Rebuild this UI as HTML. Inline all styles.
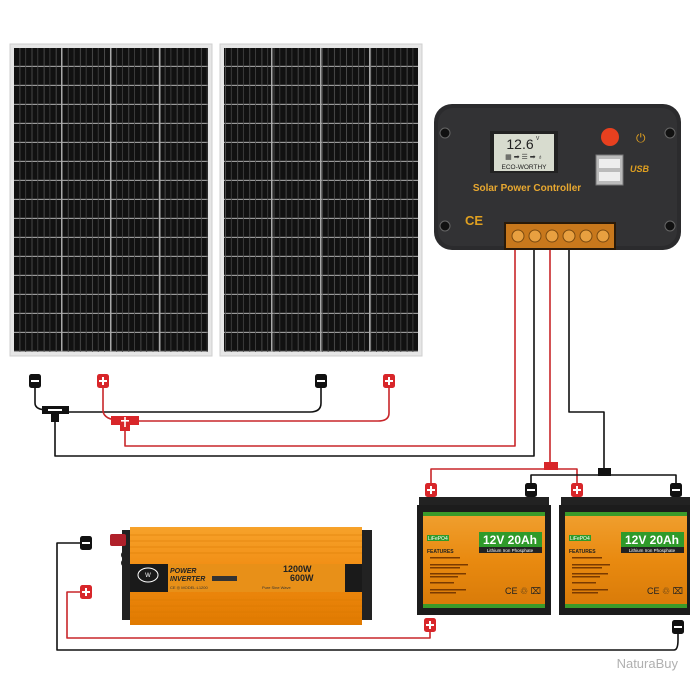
<!DOCTYPE html>
<html><head><meta charset="utf-8"><style>
html,body{margin:0;padding:0;background:#fff;}
svg{display:block;font-family:"Liberation Sans",sans-serif;}
</style></head><body>
<svg width="690" height="690" viewBox="0 0 690 690" xmlns="http://www.w3.org/2000/svg">
<defs>
<pattern id="cells" x="14" y="48" width="12.1" height="19" patternUnits="userSpaceOnUse">
<rect width="12.1" height="19" fill="#111"/>
<rect x="0" y="17.8" width="12.1" height="1.2" fill="#9a9a9a"/>
<rect x="5.5" y="0" width="0.8" height="19" fill="#555"/>
<rect x="11.3" y="0" width="0.8" height="19" fill="#444"/>
</pattern>
<linearGradient id="org" x1="0" y1="0" x2="0" y2="1">
<stop offset="0" stop-color="#f0a030"/><stop offset="0.5" stop-color="#e98a10"/><stop offset="1" stop-color="#d87a08"/>
</linearGradient>
<linearGradient id="inv" x1="0" y1="0" x2="0" y2="1">
<stop offset="0" stop-color="#f7a22a"/><stop offset="0.5" stop-color="#f08a10"/><stop offset="1" stop-color="#e07a00"/>
</linearGradient>
<g id="neg"><rect x="-6" y="-7" width="12" height="14" rx="2.5" fill="#111"/><rect x="-4" y="-1" width="8" height="2" fill="#fff"/></g>
<g id="pos"><rect x="-6" y="-7" width="12" height="14" rx="2.5" fill="#d8262a"/><rect x="-4" y="-1" width="8" height="2" fill="#fff"/><rect x="-1" y="-4" width="2" height="8" fill="#fff"/></g>
</defs>

<g>
<rect x="10" y="44" width="202" height="312" fill="#e6e6e6" stroke="#cfcfcf"/>
<rect x="14" y="48" width="194" height="304" fill="url(#cells)"/>
<rect x="61" y="48" width="1.5" height="304" fill="#aaa"/><rect x="110" y="48" width="1.5" height="304" fill="#aaa"/><rect x="159" y="48" width="1.5" height="304" fill="#aaa"/>
<rect x="220" y="44" width="202" height="312" fill="#e6e6e6" stroke="#cfcfcf"/>
<rect x="224" y="48" width="194" height="304" fill="url(#cells)"/>
<rect x="271" y="48" width="1.5" height="304" fill="#aaa"/><rect x="320" y="48" width="1.5" height="304" fill="#aaa"/><rect x="369" y="48" width="1.5" height="304" fill="#aaa"/>
</g>

<g>
<rect x="434" y="104" width="247" height="146" rx="18" fill="#2b2b2d"/>
<rect x="438" y="108" width="239" height="138" rx="15" fill="#323234"/>
<circle cx="445" cy="133" r="5" fill="#111" stroke="#666"/><circle cx="670" cy="133" r="5" fill="#111" stroke="#666"/>
<circle cx="445" cy="226" r="5" fill="#111" stroke="#666"/><circle cx="670" cy="226" r="5" fill="#111" stroke="#666"/>
<rect x="490" y="131" width="68" height="42" fill="#222"/>
<rect x="494" y="134" width="60" height="37" fill="#d8dccf"/>
<text x="520" y="149" font-size="14" text-anchor="middle" fill="#222">12.6</text>
<text x="536" y="140" font-size="5" fill="#222">V</text>
<text x="524" y="159" font-size="7" text-anchor="middle" fill="#333">▦ ➡ ☰ ➡ ♁</text>
<text x="524" y="169" font-size="6.5" text-anchor="middle" fill="#222">ECO-WORTHY</text>
<circle cx="610" cy="137" r="9" fill="#e8401f"/>
<text x="636" y="142" font-size="12" fill="#e0a020">⏻</text>
<rect x="596" y="155" width="27" height="30" fill="#bbb" stroke="#777"/>
<rect x="599" y="159" width="21" height="9" fill="#eee"/><rect x="599" y="172" width="21" height="9" fill="#eee"/>
<text x="630" y="172" font-size="9" font-weight="bold" font-style="italic" fill="#e0a020">USB</text>
<text x="527" y="191" font-size="10" font-weight="bold" text-anchor="middle" fill="#e8a830">Solar Power Controller</text>
<text x="465" y="225" font-size="13" font-weight="bold" fill="#e0a020">CE</text>
<rect x="504" y="222" width="112" height="28" fill="#2a1a08"/>
<rect x="506" y="224" width="108" height="24" fill="#c8781c"/>
<g fill="#e8a040" stroke="#7a4a10">
<circle cx="518" cy="236" r="6"/><circle cx="535" cy="236" r="6"/><circle cx="552" cy="236" r="6"/><circle cx="569" cy="236" r="6"/><circle cx="586" cy="236" r="6"/><circle cx="603" cy="236" r="6"/>
</g>
</g>

<g fill="none" stroke-width="1.6" stroke-linejoin="round">
<path d="M35 385 V403 Q35 410 48 410" stroke="#111"/>
<path d="M321 385 V403 Q321 412 310 412 H65" stroke="#111"/>
<path d="M55 420 V456 H534 V250" stroke="#111"/>
<path d="M103 385 V410 Q103 418 115 420" stroke="#c8262a"/>
<path d="M389 385 V413 Q389 421 378 421 H132" stroke="#c8262a"/>
<path d="M125 428 V446 H515 V250" stroke="#c8262a"/>
<path d="M550 250 V462" stroke="#c8262a"/>
<path d="M431 484 V469 H577 V484" stroke="#c8262a"/>
<path d="M569 250 V412 H604 V470" stroke="#111"/>
<path d="M531 484 V475 H676 V484" stroke="#111"/>
<path d="M80 543 H57 V650 H674 Q678 650 678 640 V633" stroke="#111"/>
<path d="M80 592 H67 V638 H430 V630" stroke="#c8262a"/>
</g>
<rect x="42" y="406" width="27" height="8" fill="#111"/><rect x="48" y="409" width="14" height="2" fill="#fff"/><rect x="51" y="413" width="8" height="9" fill="#111"/>
<rect x="111" y="416" width="28" height="9" fill="#d8262a"/><rect x="120" y="424" width="10" height="7" fill="#d8262a"/><rect x="121" y="420" width="8" height="1.6" fill="#fff"/><rect x="124.2" y="417" width="1.6" height="10" fill="#fff"/>
<rect x="544" y="462" width="14" height="8" fill="#d8262a"/>
<rect x="598" y="468" width="13" height="8" fill="#111"/>
<use href="#neg" x="35" y="381"/><use href="#pos" x="103" y="381"/>
<use href="#neg" x="321" y="381"/><use href="#pos" x="389" y="381"/>
<use href="#pos" x="431" y="490"/><use href="#neg" x="531" y="490"/>
<use href="#pos" x="577" y="490"/><use href="#neg" x="676" y="490"/>
<use href="#pos" x="430" y="625"/><use href="#neg" x="678" y="627"/>
<use href="#neg" x="86" y="543"/><use href="#pos" x="86" y="592"/>

<g id="bat">
<rect x="419" y="497" width="130" height="10" fill="#222"/>
<rect x="417" y="505" width="134" height="110" fill="#1c1c1c"/>
<rect x="423" y="512" width="122" height="96" fill="url(#org)"/>
<rect x="423" y="512" width="122" height="4" fill="#3a9a2a"/><rect x="423" y="604" width="122" height="4" fill="#3a9a2a"/>
<rect x="427" y="535" width="22" height="6" fill="#2f9a2a"/><text x="428" y="540" font-size="5" fill="#fff">LiFePO4</text>
<rect x="479" y="532" width="63" height="15" fill="#2f9a2a"/>
<text x="510" y="544" font-size="12" font-weight="bold" text-anchor="middle" fill="#fff">12V 20Ah</text>
<rect x="479" y="547" width="63" height="6" fill="#222"/><text x="510" y="552" font-size="4.5" text-anchor="middle" fill="#fff">Lithium Iron Phosphate</text>
<text x="427" y="553" font-size="5" font-weight="bold" fill="#222">FEATURES</text>
<g fill="#7a3a00"><rect x="430" y="557" width="30" height="1.5"/><rect x="430" y="564" width="38" height="1.5"/><rect x="430" y="567" width="30" height="1.5"/><rect x="430" y="573" width="36" height="1.5"/><rect x="430" y="576" width="28" height="1.5"/><rect x="430" y="582" width="24" height="1.5"/><rect x="430" y="589" width="36" height="1.5"/><rect x="430" y="592" width="26" height="1.5"/></g>
<text x="505" y="594" font-size="9" fill="#222">CE ♲ ⌧</text>
</g>
<use href="#bat" x="142" y="0"/>

<g>
<rect x="122" y="530" width="12" height="90" fill="#222"/>
<rect x="360" y="530" width="12" height="90" fill="#222"/>
<rect x="110" y="534" width="16" height="12" rx="2" fill="#b0202a"/>
<circle cx="125" cy="555" r="4" fill="#222"/><circle cx="125" cy="563" r="4" fill="#222"/>
<rect x="130" y="527" width="232" height="98" fill="url(#inv)"/>
<g stroke="#d87800" stroke-width="0.6"><path d="M130 535 H362 M130 541 H362 M130 547 H362 M130 553 H362 M130 600 H362 M130 606 H362 M130 612 H362 M130 618 H362"/></g>
<rect x="130" y="564" width="232" height="28" fill="#e89018"/>
<rect x="130" y="564" width="38" height="28" fill="#1a1a1a"/>
<ellipse cx="148" cy="575" rx="10" ry="7" fill="none" stroke="#fff" stroke-width="1"/>
<text x="148" y="577" font-size="6" text-anchor="middle" fill="#fff">W</text>
<text x="170" y="573" font-size="7" font-weight="bold" font-style="italic" fill="#222">POWER</text>
<text x="170" y="581" font-size="7" font-weight="bold" font-style="italic" fill="#222">INVERTER</text>
<rect x="212" y="576" width="25" height="5" fill="#333"/>
<text x="170" y="589" font-size="4" fill="#333">CE ◎ MODEL:L1200</text>
<text x="283" y="572" font-size="9" font-weight="bold" fill="#222">1200W</text>
<text x="290" y="581" font-size="9" font-weight="bold" fill="#222">600W</text>
<text x="262" y="589" font-size="4" fill="#333">Pure Sine Wave</text>
<rect x="345" y="564" width="17" height="28" fill="#1a1a1a"/>
</g>

<text x="678" y="668" font-size="13" text-anchor="end" fill="#b0b0b0">NaturaBuy</text>
</svg>
</body></html>
